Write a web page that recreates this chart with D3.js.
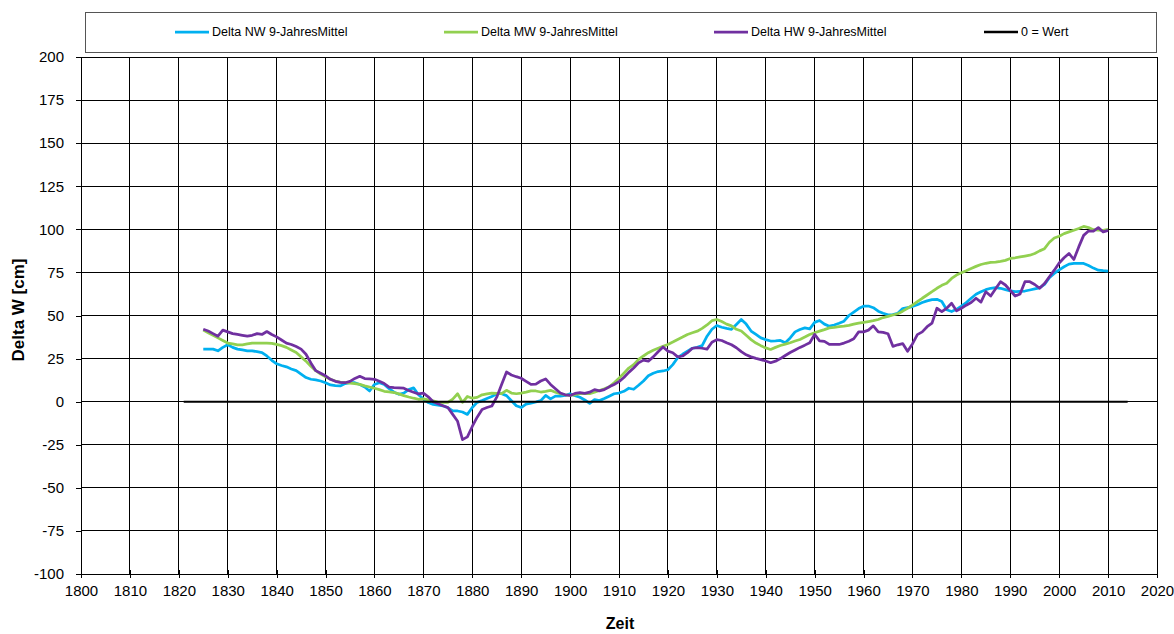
<!DOCTYPE html>
<html>
<head>
<meta charset="utf-8">
<script src="https://cdn.jsdelivr.net/npm/d3@7"></script>
<style>
  body { margin: 0; background: #fff; }
  svg { display: block; font-family: "Liberation Sans", Arial, sans-serif; }
</style>
</head>
<body>
<script>
// Jahre (jährliche Werte, 9-Jahres-Mittel)
const years = d3.range(1825, 2011);

const deltaNW = [
  30.5, 30.5, 30.5, 29.5, 31.5, 33, 31.5, 30.5, 30, 29.5,
  29.5, 29, 28.5, 26.5, 24, 22, 21, 20.2, 19, 18,
  16, 14, 13, 12.6, 12, 11, 9.7, 9.3, 9.1, 10.5,
  11, 11, 10, 8.5, 6.2, 10, 11, 10, 7.5, 5.5,
  4.3, 5, 7, 8, 4, 1.6, -0.5, -1.6, -2, -2.4,
  -3.5, -5.4, -5.4, -6, -7.4, -3.4, -0.4, 0.6, 1.8, 3,
  4.6, 4.6, 3.5, 0.5, -2.4, -3.4, -1.4, -0.8, -0.2, 0.6,
  3.6, 1.6, 3.2, 3.2, 3.6, 4.6, 3.5, 2.6, 1, -1,
  1.2, 0.6, 1.8, 3.2, 4.6, 5, 6, 7.8, 7.2, 9.5,
  12, 15, 16.5, 17.5, 17.8, 18.5, 21.5, 25.5, 27.5, 29.3,
  31, 31.5, 32.5, 38, 42, 44.2, 43.2, 42.5, 42, 44.8,
  47.7, 45, 41, 39, 37, 36, 35.2, 35.3, 35.5, 34.2,
  37, 40.5, 41.9, 42.8, 42.2, 46, 47.1, 45, 43.8, 44.5,
  45.5, 46.7, 50, 52, 54, 55.4, 55.5, 54.5, 52.5, 51.3,
  50.4, 50.5, 51.3, 54, 54.6, 55.2, 56.2, 57.5, 58.5, 59.2,
  59.4, 58.1, 53.3, 52.3, 53.6, 55.5, 57.5, 60, 62.3, 63.8,
  65, 65.8, 66.2, 65.8, 65, 64.3, 63.8, 64, 64.2, 64.8,
  65.4, 66, 68, 72, 74.4, 76.5, 78.3, 79.8, 80.2, 80.2,
  80.2, 79, 77.5, 76.3, 76, 75.8
];

const deltaMW = [
  41.5, 40, 38.5, 37, 35.5, 34, 33.5, 33, 33, 33.5,
  34, 34, 34, 34, 33.8, 33.2, 32.5, 31.5, 30, 28.5,
  26, 23.5, 20.5, 18, 16, 14.5, 13, 12, 11.3, 11,
  10.8, 10.5, 10, 9.2, 8.5, 7.8, 7, 6, 5.7, 5.3,
  4.5, 3.5, 2.7, 2, 1.4, 1.6, 1, 0.5, -0.4, -0.4,
  -0.4, 1.5, 4.6, -0.4, 3, 2, 2.5, 4, 4.5, 5,
  4.8, 4.6, 6.6, 5, 4.6, 5, 5.5, 6.3, 6.2, 5.6,
  6, 6.6, 5.5, 4.6, 4, 3.6, 4, 4.6, 4.6, 4.6,
  5.5, 6.5, 7.5, 8.6, 11, 13.6, 16.5, 19.5, 21.5, 24.5,
  26.5, 28.4, 29.8, 31, 32.2, 33.2, 34.6, 36.1, 37.5, 39,
  40, 40.9, 42.5, 44.5, 47, 47.7, 46.5, 45, 44, 42,
  41, 38.5, 36, 34, 32.5, 31.2, 30.3, 31.5, 32.6, 33.4,
  34.2, 35.2, 36.1, 37.5, 39, 40, 40.9, 41.8, 42.8, 43.1,
  43.5, 43.8, 44.3, 45, 45.6, 46, 46.5, 47, 47.7, 48.8,
  49.5, 50.3, 51, 52.5, 54.2, 56, 58, 60, 61.9, 63.8,
  65.8, 67.5, 68.7, 71.5, 73.5, 74.8, 76, 77.3, 78.5, 79.6,
  80.3, 80.8, 81, 81.4, 82, 83.1, 83.5, 84, 84.5, 85,
  86, 87.5, 88.8, 92.5, 95, 96, 97.5, 98.5, 99.5, 100.5,
  101.7, 101, 99.8, 99.5, 99.4, 100
];

const deltaHW = [
  42, 41, 39.5, 38, 41.5, 40.5, 39.5, 39, 38.5, 38,
  38.5, 39.5, 39, 40.7, 39, 37.6, 35.8, 34, 33.2, 32,
  30.5, 27.5, 22.5, 18, 16.5, 15, 13, 11.8, 11.2, 11,
  11.8, 13.5, 14.7, 13.4, 13.2, 13, 11.8, 10.5, 8.5, 8.2,
  8, 7.8, 6.5, 5.5, 4.5, 5, 2.8, 0, -1.2, -2.4,
  -3.4, -7.4, -11.4, -22, -20.4, -14.4, -9, -4.5, -3.4, -2.5,
  2.6, 10, 17.2, 15.5, 14.5, 13.6, 11.8, 10, 10.2, 12,
  13.2, 10, 7.5, 5, 4, 3.6, 4.8, 5.3, 4.8, 5.5,
  7, 6.3, 7, 8.6, 10, 11.6, 14, 17, 19.5, 22.5,
  24.1, 23.5, 26, 29, 31.7, 29.3, 28.4, 26, 26.5, 28.4,
  31, 31.3, 31, 30.5, 34.5, 36, 35.5, 34.2, 33, 31.3,
  29, 27.2, 26, 25.1, 24.4, 23.6, 22.6, 23.5, 25, 26.8,
  28.5, 30, 31.5, 32.8, 34.2, 39, 35.3, 35, 33.2, 33.2,
  33.2, 34, 35.1, 36.5, 40.5, 40.5, 41.5, 44, 40.5, 40.2,
  39.4, 32.1, 33, 33.7, 29.2, 33.5, 38.9, 40.5, 43.5, 45.6,
  54.2, 52.3, 54.2, 57.1, 52.7, 54.2, 56, 57.5, 60, 57.8,
  63.8, 61.3, 65.5, 69.6, 67.7, 64.5, 61.3, 62.5, 69.6, 69.6,
  68, 65.8, 68.5, 72.5, 76.3, 80.5, 83.5, 86, 82.5, 89.8,
  96.5, 99, 99, 101, 98.5, 99.4
];

// Nulllinie
const zeroYears = [1821, 2014];
const zeroValues = [0, 0];

const seriesNames = ['Delta NW 9-JahresMittel', 'Delta MW 9-JahresMittel', 'Delta HW 9-JahresMittel', '0 = Wert'];
const seriesColors = ['#00b0f0', '#92d050', '#7030a0', '#000000'];

const xTicks = d3.range(1800, 2021, 10);
const yTicks = d3.range(-100, 201, 25);

const width = 1174;
const height = 634;

const svg = d3.select('body').append('svg')
    .attr('width', width)
    .attr('height', height);

const x = d3.scaleLinear()
    .domain([1800, 2020])
    .range([81, 1157]);

const y = d3.scaleLinear()
    .domain([-100, 200])
    .range([574, 57]);

// Gitterlinien
const grid = svg.append('g').attr('shape-rendering', 'crispEdges');

grid.selectAll('.hgrid')
    .data(yTicks.filter(d => d > -100))
    .enter()
    .append('line')
    .attr('x1', x(1800))
    .attr('x2', x(2020))
    .attr('y1', d => y(d))
    .attr('y2', d => y(d))
    .attr('stroke', '#000')
    .attr('stroke-width', 1);

grid.selectAll('.vgrid')
    .data(xTicks.filter(d => d > 1800))
    .enter()
    .append('line')
    .attr('x1', d => x(d))
    .attr('x2', d => x(d))
    .attr('y1', y(200))
    .attr('y2', y(-100))
    .attr('stroke', '#000')
    .attr('stroke-width', 1);

// Achsen
const xAxis = svg.append('g')
    .attr('transform', `translate(0, ${y(-100)})`)
    .call(d3.axisBottom(x).tickValues(xTicks).tickFormat(d => String(d)).tickSize(4).tickSizeOuter(0).tickPadding(7));

xAxis.selectAll('.tick line').attr('y1', -4);

const yAxis = svg.append('g')
    .attr('transform', `translate(${x(1800)}, 0)`)
    .call(d3.axisLeft(y).tickValues(yTicks).tickFormat(d => String(d)).tickSize(5).tickSizeOuter(0).tickPadding(12));

[xAxis, yAxis].forEach(ax => {
    ax.selectAll('path, line').attr('stroke', '#000').attr('shape-rendering', 'crispEdges');
    ax.selectAll('text')
        .attr('fill', '#000')
        .style('font-size', '15px')
        .style('font-family', '"Liberation Sans", Arial, sans-serif');
});

// Achsentitel
svg.append('text')
    .attr('transform', `translate(24, 310) rotate(-90)`)
    .attr('text-anchor', 'middle')
    .style('font-size', '17px')
    .style('font-weight', 'bold')
    .text('Delta W [cm]');

svg.append('text')
    .attr('x', 620)
    .attr('y', 629)
    .attr('text-anchor', 'middle')
    .style('font-size', '16px')
    .style('font-weight', 'bold')
    .text('Zeit');

// Linien
const line = d3.line()
    .x(d => x(d[0]))
    .y(d => y(d[1]));

const seriesData = [
    years.map((yr, i) => [yr, deltaNW[i]]),
    years.map((yr, i) => [yr, deltaMW[i]]),
    years.map((yr, i) => [yr, deltaHW[i]]),
    zeroYears.map((yr, i) => [yr, zeroValues[i]])
];

seriesData.forEach((data, i) => {
    svg.append('path')
        .datum(data)
        .attr('fill', 'none')
        .attr('stroke', seriesColors[i])
        .attr('stroke-width', i === 3 ? 2 : 2.75)
        .attr('stroke-linejoin', 'round')
        .attr('d', line);
});

// Legende
svg.append('rect')
    .attr('x', 85.5)
    .attr('y', 12.5)
    .attr('width', 1071)
    .attr('height', 40)
    .attr('fill', '#fff')
    .attr('stroke', '#555')
    .attr('stroke-width', 1);

const legendX = [175, 444, 714, 984];
const legend = svg.selectAll('.legend')
    .data(seriesNames)
    .enter()
    .append('g')
    .attr('transform', (d, i) => `translate(${legendX[i]}, 32)`);

legend.append('line')
    .attr('x1', 0)
    .attr('x2', 34)
    .attr('stroke', (d, i) => seriesColors[i])
    .attr('stroke-width', (d, i) => i === 3 ? 2.5 : 2.75);

legend.append('text')
    .attr('x', 37)
    .attr('dy', '0.35em')
    .style('font-size', '12.5px')
    .text(d => d);
</script>
</body>
</html>
